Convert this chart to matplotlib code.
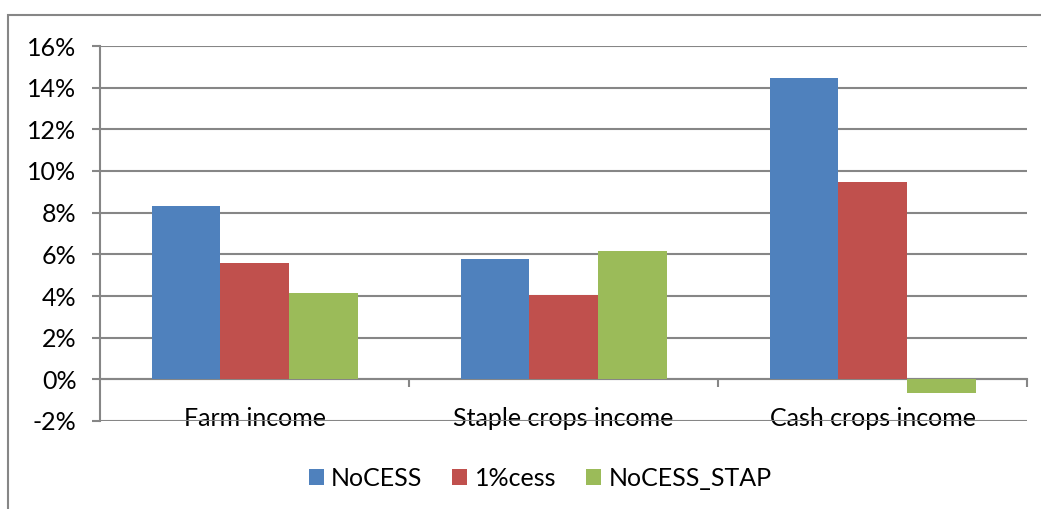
import matplotlib
matplotlib.use("Agg")
import matplotlib.pyplot as plt
from matplotlib.patches import Rectangle
from matplotlib.ticker import FuncFormatter, FixedLocator
import numpy as np

categorias = ["Farm income", "Staple crops income", "Cash crops income"]
series = ["NoCESS", "1%cess", "NoCESS_STAP"]
nocess = [8.3, 5.8, 14.45]
cess1 = [5.6, 4.05, 9.45]
nocess_stap = [4.15, 6.15, -0.65]
colores = ["#4F81BD", "#C0504D", "#9BBB59"]

plt.rcParams["font.family"] = ["Lato", "DejaVu Sans"]

fig = plt.figure(figsize=(10.41, 5.09), dpi=100)
ax = fig.add_axes([100 / 1041, 88 / 509, 927 / 1041, 375 / 509])

x = np.arange(len(categorias))
ancho = 1 / 4.5
for i, (vals, nombre, c) in enumerate(zip([nocess, cess1, nocess_stap], series, colores)):
    ax.bar(x + (i - 1) * ancho, vals, ancho, color=c, label=nombre, zorder=3)

ax.set_xlim(-0.5, len(categorias) - 0.5)
ax.set_ylim(-2, 16)
ax.set_yticks(range(-2, 17, 2))
ax.yaxis.set_major_formatter(FuncFormatter(lambda v, p: f"{int(v)}%"))
ax.grid(axis="y", color="#868686", lw=1.5, zorder=0)

for s in ["top", "right"]:
    ax.spines[s].set_visible(False)
ax.spines["left"].set_color("#868686")
ax.spines["left"].set_linewidth(1.5)
ax.spines["bottom"].set_position(("data", 0))
ax.spines["bottom"].set_color("#868686")
ax.spines["bottom"].set_linewidth(1.5)

ax.set_xticks(x)
ax.set_xticklabels(categorias, fontsize=18)
ax.tick_params(axis="x", which="major", length=0, pad=20)
ax.xaxis.set_minor_locator(FixedLocator([0.5, 1.5, 2.5]))
ax.tick_params(axis="x", which="minor", length=6, width=1.5, color="#868686", direction="out")
ax.tick_params(axis="y", length=6, width=1.5, color="#868686", labelsize=18, pad=11)

ax.legend(loc="center", bbox_to_anchor=(0.475, -0.152), ncol=3, frameon=False,
          fontsize=18, handlelength=0.6, handleheight=0.6, columnspacing=1.2, handletextpad=0.3)

fig.patches.append(Rectangle((8 / 1041, -0.1), 1.2, (509 - 15) / 509 + 0.1,
                             transform=fig.transFigure, fill=False, edgecolor="#868686", lw=1.5))

fig.savefig("out.png", dpi=100)
